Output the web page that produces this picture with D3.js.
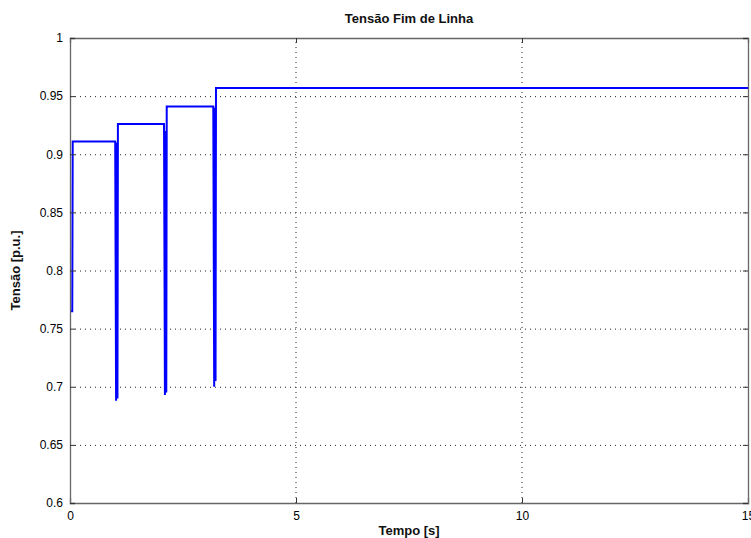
<!DOCTYPE html>
<html><head><meta charset="utf-8">
<script src="https://cdn.jsdelivr.net/npm/d3@7"></script>
<style>body{margin:0;background:#fff}svg{display:block}</style>
</head><body>
<script>
const titleText = "Tensão Fim de Linha";
const xLabel = "Tempo [s]";
const yLabel = "Tensão [p.u.]";
const xTicks = [0, 5, 10, 15];
const yTicks = [0.6, 0.65, 0.7, 0.75, 0.8, 0.85, 0.9, 0.95, 1];
// time (s) and voltage (p.u.)
const timeS = [0, 0.05, 0.06, 0.99, 1.0, 1.02, 1.03, 1.05, 1.06, 1.08,
  2.07, 2.08, 2.10, 2.11, 2.13, 2.14, 2.16,
  3.16, 3.17, 3.19, 3.20, 3.22, 3.23, 3.25, 15];
const voltage = [0.765, 0.765, 0.911, 0.911, 0.911, 0.688, 0.91, 0.69, 0.926, 0.926,
  0.926, 0.926, 0.693, 0.92, 0.695, 0.941, 0.941,
  0.941, 0.941, 0.700, 0.94, 0.705, 0.957, 0.957, 0.957];

const W = 751, H = 538;
const m = {l: 70, r: 3, t: 38, b: 35};
const svg = d3.select("body").append("svg").attr("width", W).attr("height", H);
const x = d3.scaleLinear().domain([0, 15]).range([m.l, W - m.r]);
const y = d3.scaleLinear().domain([0.6, 1]).range([H - m.b, m.t]);
const font = "'Liberation Sans Narrow','Arial Narrow','Liberation Sans',Arial,sans-serif";

// grid
const g = svg.append("g");
g.selectAll(".gx").data(xTicks.slice(1, -1)).enter().append("line")
  .attr("x1", d => x(d)).attr("x2", d => x(d)).attr("y1", y(0.6)).attr("y2", y(1))
  .attr("stroke", "#222").attr("stroke-width", 1).attr("stroke-dasharray", "1,4");
g.selectAll(".gy").data(yTicks.slice(1, -1)).enter().append("line")
  .attr("y1", d => y(d) + 0.5).attr("y2", d => y(d) + 0.5).attr("x1", x(0)).attr("x2", x(15))
  .attr("stroke", "#222").attr("stroke-width", 1).attr("stroke-dasharray", "1,4");

// data line
const line = d3.line().x((d, i) => x(timeS[i])).y(d => y(d));
svg.append("path").datum(voltage).attr("d", line)
  .attr("fill", "none").attr("stroke", "#0000ff").attr("stroke-width", 2)
  .attr("stroke-linejoin", "miter");

// axes
const xAx = d3.axisBottom(x).tickValues(xTicks).tickSize(-5).tickPadding(8).tickFormat(d3.format("d"));
const xAxT = d3.axisTop(x).tickValues(xTicks).tickSize(-5).tickFormat("");
const yAx = d3.axisLeft(y).tickValues(yTicks).tickSize(-5).tickPadding(7).tickFormat(d => d3.format("")(+d.toFixed(2)));
const yAxR = d3.axisRight(y).tickValues(yTicks).tickSize(-5).tickFormat("");
function style(sel) {
  sel.select(".domain").attr("stroke", "#666").attr("stroke-width", 1.3);
  sel.selectAll(".tick line").attr("stroke", "#333");
  sel.selectAll("text").attr("font-family", font).attr("font-size", 12).attr("fill", "#000");
}
svg.append("g").attr("transform", `translate(0,${y(0.6)})`).call(xAx).call(style);
svg.append("g").attr("transform", `translate(0,${y(1)})`).call(xAxT).call(style);
svg.append("g").attr("transform", `translate(${x(0)},0)`).call(yAx).call(style);
svg.append("g").attr("transform", `translate(${x(15)},0)`).call(yAxR).call(style);

// texts
svg.append("text").attr("x", (x(0) + x(15)) / 2).attr("y", 23).attr("text-anchor", "middle")
  .attr("font-family", font).attr("font-weight", "bold").attr("font-size", 13).attr("fill", "#111").text(titleText);
svg.append("text").attr("x", (x(0) + x(15)) / 2).attr("y", 535).attr("text-anchor", "middle")
  .attr("font-family", font).attr("font-weight", "bold").attr("font-size", 13).attr("fill", "#111").text(xLabel);
svg.append("text").attr("transform", `translate(20,${(y(0.6) + y(1)) / 2}) rotate(-90)`).attr("text-anchor", "middle")
  .attr("font-family", font).attr("font-weight", "bold").attr("font-size", 13).attr("fill", "#111").text(yLabel);
</script>
</body></html>
